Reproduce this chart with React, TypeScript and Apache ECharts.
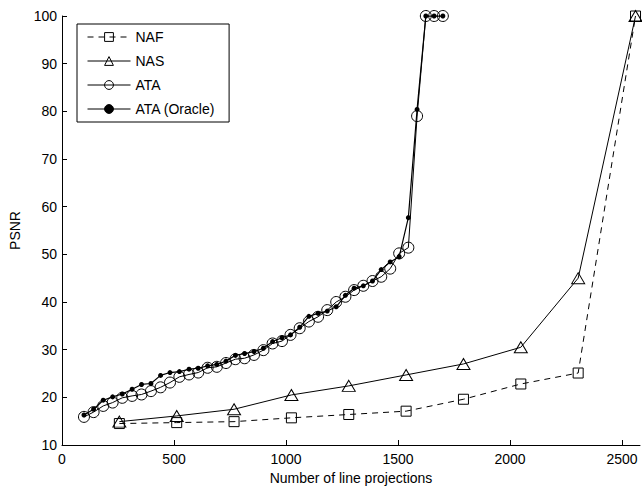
import React, { useEffect, useRef } from "react";
import * as echarts from "echarts";

const xNA = [256, 512, 768, 1024, 1280, 1536, 1792, 2048, 2304, 2560];
const naf = [14.5, 14.7, 14.9, 15.7, 16.4, 17.1, 19.6, 22.8, 25.1, 100];
const nas = [14.9, 16.1, 17.5, 20.5, 22.4, 24.7, 27.0, 30.5, 45.0, 100];

const xATA = [
  98, 141, 184, 226, 269, 313, 355, 397, 440, 482,
  524, 567, 608, 650, 691, 732, 774, 815, 857, 899,
  940, 982, 1020, 1061, 1102, 1143, 1184, 1224, 1265, 1304,
  1345, 1386, 1425, 1465, 1505, 1546, 1585, 1624, 1661, 1700,
];
const ata = [
  15.9, 16.9, 18.2, 18.9, 19.9, 20.3, 20.6, 21.3, 22.1, 23.1,
  24.3, 24.8, 25.2, 26.2, 26.4, 27.2, 28.0, 28.2, 28.9, 29.9,
  31.3, 31.8, 33.1, 34.5, 35.9, 36.9, 38.3, 40.0, 41.1, 42.5,
  43.4, 44.4, 45.3, 47.0, 50.2, 51.4, 79.0, 100, 100, 100,
];
const oracle = [
  16.3, 17.5, 19.4, 20.1, 20.7, 21.7, 22.7, 22.9, 24.6, 25.2,
  25.4, 25.9, 26.1, 26.6, 26.9, 27.6, 28.8, 29.2, 29.6, 30.3,
  31.7, 32.5, 33.1, 34.7, 37.0, 37.6, 38.1, 39.0, 41.4, 42.9,
  43.4, 44.4, 46.8, 48.4, 49.5, 57.7, 80.4, 100, 100, 100,
];

const FONT = "'Liberation Sans', Arial, Helvetica, sans-serif";

export default function App() {
  const ref = useRef<HTMLDivElement>(null);
  useEffect(() => {
    if (!ref.current) return;
    const chart = echarts.init(ref.current, null, { renderer: "svg" });
    const pair = (xs: number[], ys: number[]) => xs.map((x, i) => [x, ys[i]]);
    const hollow = { color: "rgba(255,255,255,0)", borderColor: "#000", borderWidth: 1 };
    chart.setOption({
      animation: false,
      backgroundColor: "#fff",
      textStyle: { fontFamily: FONT },
      grid: { left: 62, top: 16, right: 2, bottom: 45 },
      legend: {
        left: 77,
        top: 24,
        orient: "vertical",
        itemWidth: 43,
        itemHeight: 11,
        itemGap: 10,
        padding: [6, 14, 6, 10],
        borderColor: "#000",
        borderWidth: 1,
        borderRadius: 0,
        backgroundColor: "#fff",
        lineStyle: { width: 1 },
        itemStyle: { borderWidth: 1 },
        textStyle: { fontSize: 14, color: "#000", fontFamily: FONT },
        data: ["NAF", "NAS", "ATA", "ATA (Oracle)"],
      },
      xAxis: {
        type: "value",
        min: 0,
        max: 2580,
        interval: 500,
        name: "Number of line projections",
        nameLocation: "middle",
        nameGap: 25,
        nameTextStyle: { fontSize: 14, color: "#000", fontFamily: FONT },
        axisLine: { onZero: false, lineStyle: { color: "#000", width: 1 } },
        axisTick: { inside: true, length: 5, lineStyle: { color: "#000" } },
        axisLabel: {
          fontSize: 14,
          color: "#000",
          margin: 7,
          showMaxLabel: false,
          fontFamily: FONT,
          formatter: (v: number) => String(v),
        },
        splitLine: { show: false },
      },
      yAxis: {
        type: "value",
        min: 10,
        max: 100,
        interval: 10,
        name: "PSNR",
        nameLocation: "middle",
        nameGap: 40,
        nameTextStyle: { fontSize: 14, color: "#000", fontFamily: FONT },
        axisLine: { show: true, onZero: false, lineStyle: { color: "#000", width: 1 } },
        axisTick: { show: true, inside: true, length: 5, lineStyle: { color: "#000" } },
        axisLabel: { fontSize: 14, color: "#000", margin: 5, fontFamily: FONT },
        splitLine: { show: false },
      },
      series: [
        {
          name: "NAF",
          type: "line",
          data: pair(xNA, naf),
          symbol: "rect",
          symbolSize: 10,
          showAllSymbol: true,
          lineStyle: { color: "#000", width: 1, type: [6, 5] },
          itemStyle: hollow,
        },
        {
          name: "NAS",
          type: "line",
          data: pair(xNA, nas),
          symbol: "triangle",
          symbolSize: [13, 11],
          showAllSymbol: true,
          lineStyle: { color: "#000", width: 1 },
          itemStyle: hollow,
        },
        {
          name: "ATA",
          type: "line",
          data: pair(xATA, ata),
          symbol: "circle",
          symbolSize: 11,
          showAllSymbol: true,
          lineStyle: { color: "#000", width: 1 },
          itemStyle: hollow,
        },
        {
          name: "ATA (Oracle)",
          type: "line",
          data: pair(xATA, oracle),
          symbol: "circle",
          symbolSize: 5,
          showAllSymbol: true,
          lineStyle: { color: "#000", width: 1.2 },
          itemStyle: { color: "#000", borderColor: "#000", borderWidth: 0 },
        },
      ],
    });
    return () => chart.dispose();
  }, []);
  return <div ref={ref} style={{ width: 642, height: 490, position: "absolute", left: 0, top: 0 }} />;
}
